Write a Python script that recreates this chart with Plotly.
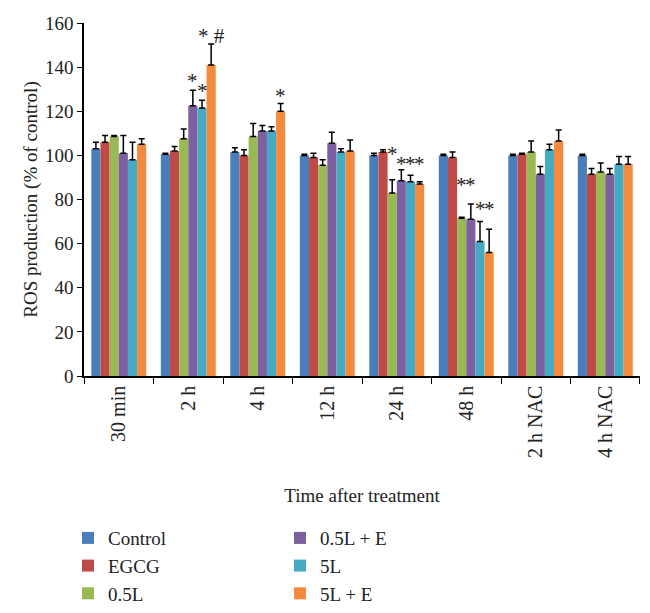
import plotly.graph_objects as go

categories = ["30 min", "2 h", "4 h", "12 h", "24 h", "48 h", "2 h NAC", "4 h NAC"]
series_names = ["Control", "EGCG", "0.5L", "0.5L + E", "5L", "5L + E"]
colors = ["#4A7EBB", "#BE4B48", "#98B954", "#7D60A0", "#46AAC5", "#F38A3D"]

control = [103, 100.5, 101.5, 100, 100, 100, 100, 100]
egcg = [106, 102, 100, 99, 101.5, 99, 100.5, 91.5]
l05 = [108.5, 107.5, 108.5, 95.5, 83, 71.5, 101.5, 92.5]
l05_e = [101, 122.5, 111, 105.5, 88.5, 71, 91.5, 91.5]
l5 = [98, 121.5, 111, 101.5, 88, 61, 102.5, 96]
l5_e = [105, 141, 120, 102, 87, 56, 106.5, 96]

control_err = [3, 0.5, 2, 0.5, 1, 0.5, 0.5, 0.5]
egcg_err = [3, 2, 2.5, 2, 1, 2.5, 0.5, 2.5]
l05_err = [0.5, 4.5, 6, 2.5, 6, 0.5, 5, 4]
l05_e_err = [8, 7, 2.5, 5, 5, 7, 3.5, 2.5]
l5_err = [8, 3.5, 2, 1.5, 3, 9, 2.5, 3.5]
l5_e_err = [2.5, 9.5, 3.5, 5, 1, 10.5, 5, 3.5]

values = [control, egcg, l05, l05_e, l5, l5_e]
errors = [control_err, egcg_err, l05_err, l05_e_err, l5_err, l5_e_err]

# significance marks: category, series index, height, text
sig_cat = ["2 h", "2 h", "2 h", "4 h", "24 h", "24 h", "24 h", "24 h", "48 h", "48 h", "48 h", "48 h"]
sig_series = [3, 4, 5, 5, 2, 3, 4, 5, 2, 3, 4, 5]
sig_y = [133.5, 129, 154, 127, 100.5, 96, 96, 96, 86.5, 86.5, 75.5, 75.5]
sig_text = ["*", "*", "* #", "*", "*", "*", "*", "*", "*", "*", "*", "*"]

serif = "Liberation Serif"

fig = go.Figure()
for i, name in enumerate(series_names):
    fig.add_trace(go.Bar(
        x=categories, y=values[i], name=name,
        marker=dict(color=colors[i], line=dict(width=0)),
        error_y=dict(type="data", array=errors[i], arrayminus=[0] * len(categories),
                     symmetric=False, color="black", thickness=1.5, width=3),
        legend="legend" if i < 3 else "legend2",
    ))

group_px = 55
bar_px = group_px / len(series_names)
for c, s, y, t in zip(sig_cat, sig_series, sig_y, sig_text):
    fig.add_annotation(
        x=c, y=y, text=t, showarrow=False, yanchor="middle",
        xshift=(s - 2.5) * bar_px,
        font=dict(family=serif, size=21, color="#222"),
    )

# page body has an 8px margin, so the figure is shifted by 8px
fig.update_layout(
    width=642, height=613,
    margin=dict(l=0, r=10, t=15, b=12),
    plot_bgcolor="white", paper_bgcolor="white",
    barmode="group", bargap=0.21, bargroupgap=0,
    font=dict(family=serif, size=19, color="#222"),
    xaxis=dict(
        domain=[0.1203, 1],
        showline=True, linecolor="black", linewidth=1.5,
        ticks="outside", tickson="boundaries", ticklen=6, tickcolor="black",
        tickangle=-90, tickfont=dict(size=20), automargin=True,
        title=dict(text="Time after treatment", font=dict(size=19), standoff=32),
    ),
    yaxis=dict(
        domain=[0.3976, 1],
        range=[0, 160], dtick=20, showgrid=False, zeroline=False,
        showline=True, linecolor="black", linewidth=1.5,
        ticks="outside", ticklen=5, tickcolor="black", tickfont=dict(size=19),
        automargin=False,
        title=dict(text="ROS production (% of control)", font=dict(size=19), standoff=2),
    ),
    legend=dict(x=0.0949, y=0.1535, xanchor="left", yanchor="top",
                font=dict(size=19), tracegroupgap=0, itemwidth=30),
    legend2=dict(x=0.4304, y=0.1535, xanchor="left", yanchor="top",
                 font=dict(size=19), tracegroupgap=0, itemwidth=30),
)

fig.write_html("out.html")
